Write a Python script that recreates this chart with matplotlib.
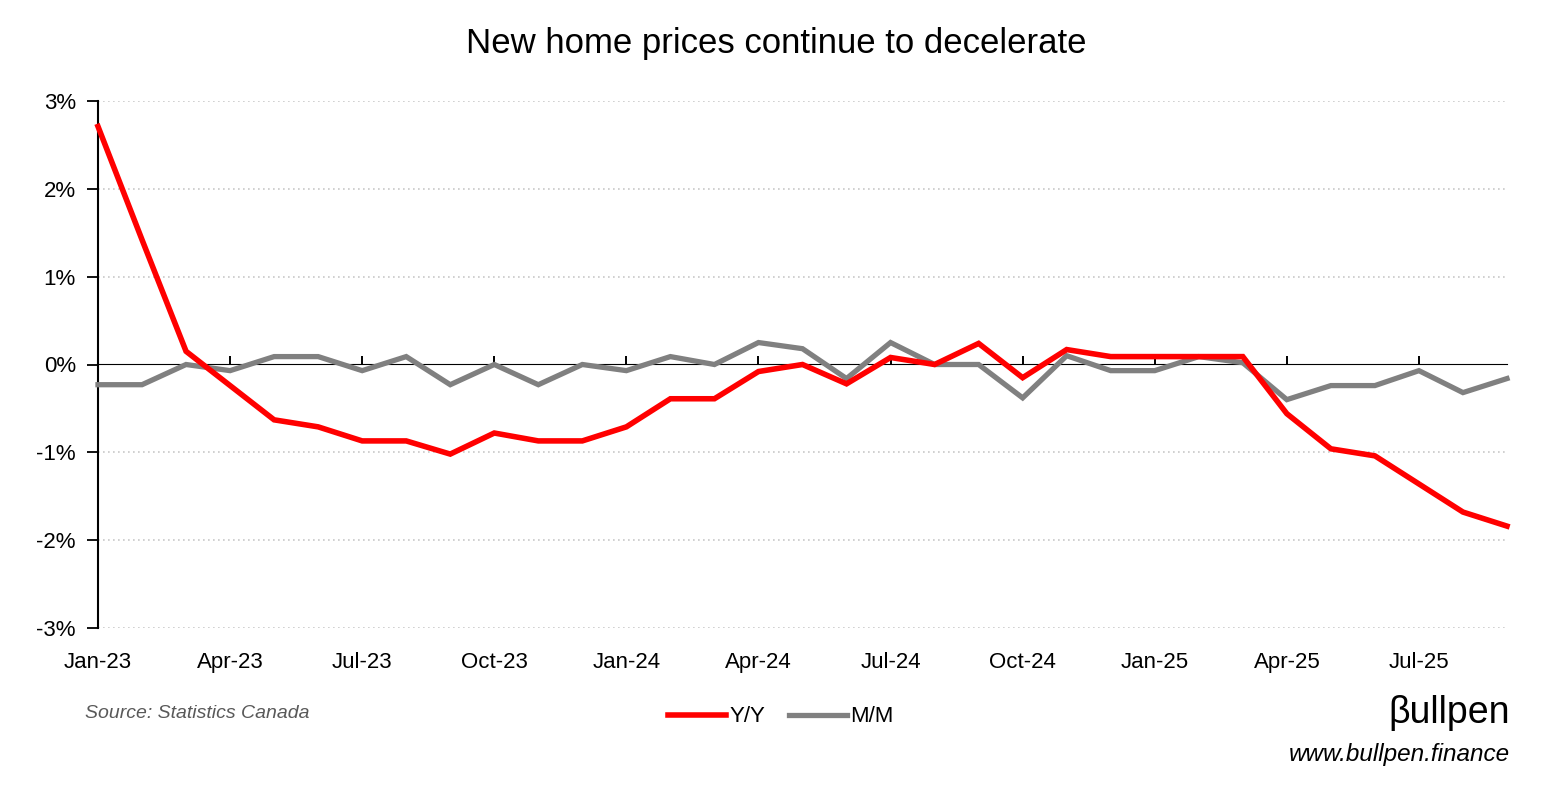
import matplotlib
matplotlib.use("Agg")
import matplotlib.pyplot as plt

months = ["Jan-23","Feb-23","Mar-23","Apr-23","May-23","Jun-23","Jul-23","Aug-23","Sep-23",
          "Oct-23","Nov-23","Dec-23","Jan-24","Feb-24","Mar-24","Apr-24","May-24","Jun-24",
          "Jul-24","Aug-24","Sep-24","Oct-24","Nov-24","Dec-24","Jan-25","Feb-25","Mar-25",
          "Apr-25","May-25","Jun-25","Jul-25","Aug-25","Sep-25"]
yy = [2.71, 1.42, 0.15, -0.24, -0.63, -0.71, -0.87, -0.87, -1.02, -0.78, -0.87, -0.87,
      -0.71, -0.39, -0.39, -0.08, 0.0, -0.22, 0.08, 0.0, 0.24, -0.15, 0.17, 0.09,
      0.09, 0.09, 0.09, -0.56, -0.96, -1.04, -1.36, -1.68, -1.84]
mm = [-0.23, -0.23, 0.0, -0.07, 0.09, 0.09, -0.07, 0.09, -0.23, 0.0, -0.23, 0.0,
      -0.07, 0.09, 0.0, 0.25, 0.18, -0.16, 0.25, 0.0, 0.0, -0.38, 0.1, -0.07,
      -0.07, 0.09, 0.02, -0.4, -0.24, -0.24, -0.07, -0.32, -0.16]
yticks = [3, 2, 1, 0, -1, -2, -3]
ytick_labels = ["3%", "2%", "1%", "0%", "-1%", "-2%", "-3%"]

FONT = ["Liberation Sans", "DejaVu Sans"]
plt.rcParams["font.family"] = FONT

fig = plt.figure(figsize=(15.52, 7.96), dpi=100)
ax = fig.add_axes([98/1552, (796-628)/796, (1507-98)/1552, (628-101)/796])

x = list(range(len(months)))
ax.plot(x, yy, color="#FF0000", lw=4.0, label="Y/Y", solid_joinstyle="miter", clip_on=False, zorder=4)
ax.plot(x, mm, color="#808080", lw=3.8, label="M/M", solid_joinstyle="miter", clip_on=False, zorder=3)

ax.set_xlim(0, len(months) - 1)
ax.set_ylim(-3, 3)
ax.set_yticks(yticks)
ax.set_yticklabels(ytick_labels)
for v in yticks:
    if v != 0:
        ax.axhline(v, color="#c8c8c8", lw=1.2, ls=(0, (1, 2)), zorder=1)

for s in ["top", "right", "bottom"]:
    ax.spines[s].set_visible(False)
ax.spines["left"].set_color("black")
ax.spines["left"].set_linewidth(1.5)
ax.tick_params(axis="y", direction="out", length=8, width=1.3, labelsize=16, pad=8)

tick_pos = list(range(0, len(months), 3))
ax.set_xticks(tick_pos)
ax.set_xticklabels([months[i] for i in tick_pos])
ax.tick_params(axis="x", length=0, labelsize=16, pad=17)

sec = ax.secondary_xaxis(0.5)
sec.set_xticks(tick_pos)
sec.set_xticklabels([])
sec.spines["bottom"].set_color("black")
sec.spines["bottom"].set_linewidth(1.8)
sec.tick_params(axis="x", direction="out", length=6, width=1.4)
sec.set_zorder(2)

fig.text(0.5, 1 - 43/796, "New home prices continue to decelerate", ha="center", va="center",
         fontsize=25, family=["Liberation Sans", "DejaVu Sans"])

fig.text(85/1552, 1 - 713/796, "Source: Statistics Canada", ha="left", va="center",
         fontsize=14, style="italic", color="#595959")

leg = fig.legend(loc="center", bbox_to_anchor=(781/1552, 1 - 717/796), ncol=2, frameon=False,
                 fontsize=16, handlelength=2.6, handletextpad=0.15, columnspacing=1.1)

fig.text(1510/1552, 1 - 713/796, "βullpen", ha="right", va="center", fontsize=27,
         family=["Liberation Sans", "DejaVu Sans"])
fig.text(1510/1552, 1 - 755/796, "www.bullpen.finance", ha="right", va="center",
         fontsize=17.5, style="italic", color="black")

fig.savefig("out.png", dpi=100)
